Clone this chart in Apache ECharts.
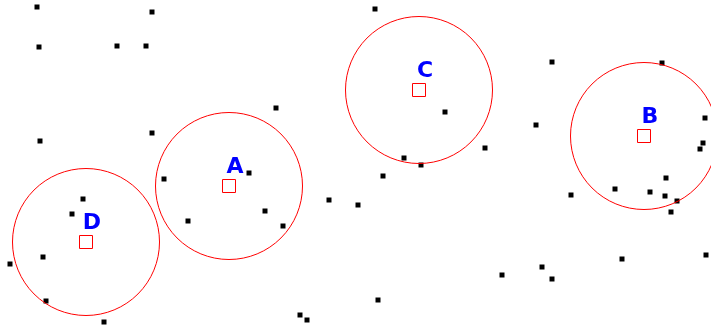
<!DOCTYPE html>
<html>
<head>
<meta charset="utf-8">
<script src="https://cdn.jsdelivr.net/npm/echarts@6/dist/echarts.min.js"></script>
<style>
  html, body { margin: 0; padding: 0; background: #fff; }
  #chart { width: 711px; height: 329px; }
</style>
</head>
<body>
<div id="chart"></div>
<script>
const points = [
  [37, 7], [152, 12], [39, 47], [117, 46], [146, 46], [375, 9], [552, 62], [662, 63],
  [276, 108], [445, 112], [536, 125], [705, 118], [152, 133], [40, 141], [485, 148],
  [703, 143], [700, 149], [404, 158], [421, 165], [164, 179], [249, 173], [383, 176],
  [666, 178], [83, 199], [615, 189], [650, 192], [665, 196], [571, 195], [329, 200],
  [358, 205], [677, 201], [72, 214], [265, 211], [671, 212], [188, 221], [283, 226],
  [43, 257], [10, 264], [706, 255], [622, 259], [542, 267], [502, 275], [552, 279],
  [46, 301], [378, 300], [104, 322], [300, 315], [307, 320]
];
const centerNames = ['A', 'B', 'C', 'D'];
const centers = [[229, 186], [644, 136], [419, 90], [86, 242]];
const radius = 73.5;

const chart = echarts.init(document.getElementById('chart'));

chart.setOption({
  animation: false,
  grid: { left: 0, right: 0, top: 0, bottom: 0 },
  xAxis: { type: 'value', min: 0, max: 711, show: false },
  yAxis: { type: 'value', min: 0, max: 329, inverse: true, show: false },
  series: [
    {
      type: 'scatter',
      data: points,
      symbol: 'rect',
      symbolSize: 5,
      itemStyle: { color: '#000', opacity: 1 }
    },
    {
      // cluster circles
      type: 'scatter',
      data: centers,
      symbol: 'circle',
      symbolSize: radius * 2,
      silent: true,
      itemStyle: { color: 'rgba(0,0,0,0)', borderColor: '#ff0000', borderWidth: 1, opacity: 1 }
    },
    {
      type: 'scatter',
      data: centers.map((c, i) => ({ value: c, name: centerNames[i] })),
      symbol: 'rect',
      symbolSize: 13,
      itemStyle: { color: 'rgba(0,0,0,0)', borderColor: '#ff0000', borderWidth: 1, opacity: 1 },
      label: {
        show: true,
        position: 'inside',
        offset: [6, -19],
        formatter: p => p.name,
        color: '#0000ff',
        fontFamily: 'DejaVu Sans',
        fontWeight: 'bold',
        fontSize: 22
      }
    }
  ]
});
</script>
</body>
</html>
